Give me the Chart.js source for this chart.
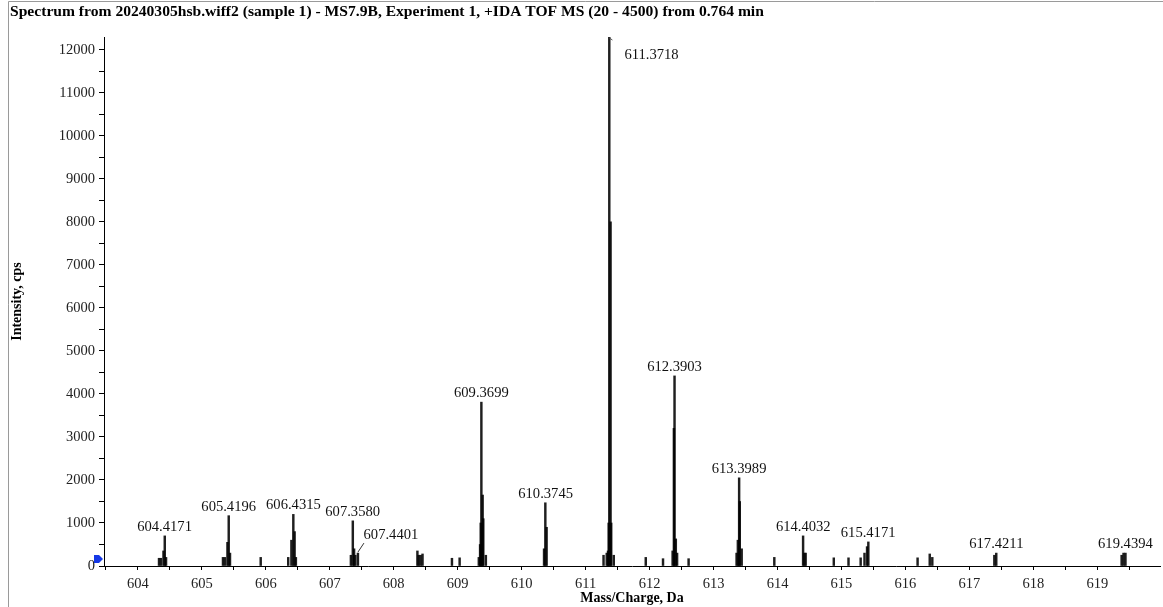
<!DOCTYPE html>
<html>
<head>
<meta charset="utf-8">
<script src="https://cdn.jsdelivr.net/npm/chart.js@4.4.1/dist/chart.umd.min.js"></script>
<style>
  html, body { margin: 0; padding: 0; background: #fff; }
  #wrap { width: 1163px; height: 607px; }
</style>
</head>
<body>
<div id="wrap"><canvas id="spectrum" width="1163" height="607"></canvas></div>
<script>
const chartTitle = 'Spectrum from 20240305hsb.wiff2 (sample 1) - MS7.9B, Experiment 1, +IDA TOF MS (20 - 4500) from 0.764 min';

// m/z of every stick and its intensity (cps)
const mzValues = [
  604.33, 604.36, 604.40, 604.42, 604.44,
  605.33, 605.36, 605.40, 605.42, 605.44, 605.92,
  606.35, 606.40, 606.43, 606.45, 606.47,
  607.33, 607.36, 607.38, 607.40, 607.44,
  608.37, 608.39, 608.42, 608.45, 608.91,
  609.03, 609.33, 609.35, 609.36, 609.37, 609.39, 609.40, 609.44,
  610.35, 610.37, 610.39,
  611.28, 611.33, 611.35, 611.36, 611.37, 611.39, 611.40, 611.44, 611.94,
  612.21, 612.36, 612.38, 612.39, 612.41, 612.43, 612.61,
  613.36, 613.38, 613.40, 613.41, 613.44, 613.95,
  614.40, 614.42, 614.44, 614.88,
  615.11, 615.30, 615.36, 615.40, 615.42,
  616.19, 616.38, 616.42,
  617.39, 617.42,
  619.38, 619.41, 619.44
];
const intensities = [
  180, 180, 350, 700, 200,
  200, 200, 550, 1170, 300, 200,
  200, 600, 1200, 800, 200,
  250, 1050, 400, 250, 300,
  350, 250, 250, 280, 180,
  190, 200, 500, 1000, 3810, 1650, 1100, 250,
  400, 1470, 900,
  250, 300, 350, 1000, 12300, 8000, 1000, 250, 200,
  170, 350, 3200, 4420, 630, 300, 170,
  300, 600, 2050, 1500, 400, 200,
  700, 300, 300, 190,
  190, 190, 300, 450, 560,
  190, 280, 200,
  250, 300,
  250, 300, 300
];

// annotated peaks: label text and the height of the peak under it
const peakLabels = ['604.4171', '605.4196', '606.4315', '607.3580', '607.4401', '609.3699', '610.3745',
  '611.3718', '612.3903', '613.3989', '614.4032', '615.4171', '617.4211', '619.4394'];
const peakTops = [700, 1170, 1200, 1050, 300, 3810, 1470, 12300, 4420, 2050, 700, 560, 300, 300];

// tick positions (major ones get a label)
const xTicks = [603.5, 604, 604.5, 605, 605.5, 606, 606.5, 607, 607.5, 608, 608.5, 609, 609.5,
  610, 610.5, 611, 611.5, 612, 612.5, 613, 613.5, 614, 614.5, 615, 615.5, 616, 616.5,
  617, 617.5, 618, 618.5, 619, 619.5];
const yTicks = [0, 500, 1000, 1500, 2000, 2500, 3000, 3500, 4000, 4500, 5000, 5500, 6000,
  6500, 7000, 7500, 8000, 8500, 9000, 9500, 10000, 10500, 11000, 11500, 12000];

const serif = '"Liberation Serif", "Times New Roman", serif';

const annotatePlugin = {
  id: 'annotate',
  afterDraw(chart) {
    const { ctx, chartArea, scales: { x, y } } = chart;
    ctx.save();

    // window frame
    ctx.strokeStyle = '#9a9a9a';
    ctx.lineWidth = 1;
    ctx.beginPath();
    ctx.moveTo(8.5, 607);
    ctx.lineTo(8.5, 1.5);
    ctx.lineTo(1163, 1.5);
    ctx.stroke();

    ctx.fillStyle = '#000';
    ctx.font = 'bold 15.6px ' + serif;
    ctx.textAlign = 'left';
    ctx.textBaseline = 'middle';
    ctx.fillText(chartTitle, 10, 12);

    // peak labels
    ctx.font = '14.6px ' + serif;
    ctx.fillStyle = '#111';
    ctx.textBaseline = 'alphabetic';
    peakLabels.forEach((txt, i) => {
      const px = x.getPixelForValue(parseFloat(txt));
      const py = y.getPixelForValue(peakTops[i]);
      if (txt === '611.3718') {
        ctx.textAlign = 'left';
        ctx.fillText(txt, px + 15, py + 22);
        ctx.beginPath();
        ctx.moveTo(px, py + 1);
        ctx.lineTo(px + 3, py + 3);
        ctx.strokeStyle = '#555';
        ctx.stroke();
      } else if (txt === '607.4401') {
        ctx.textAlign = 'center';
        ctx.fillText(txt, px + 33, py - 14);
        ctx.beginPath();
        ctx.moveTo(px, py - 1);
        ctx.lineTo(px + 6, py - 10);
        ctx.strokeStyle = '#333';
        ctx.stroke();
      } else {
        ctx.textAlign = 'center';
        ctx.fillText(txt, px, py - 5);
      }
    });

    // blue marker at the origin
    const ax = chartArea.left;
    const ay = y.getPixelForValue(0);
    ctx.fillStyle = '#1538e6';
    ctx.beginPath();
    ctx.moveTo(ax - 10, ay - 11);
    ctx.lineTo(ax - 5, ay - 11);
    ctx.lineTo(ax - 1, ay - 7);
    ctx.lineTo(ax - 5, ay - 3);
    ctx.lineTo(ax - 10, ay - 3);
    ctx.closePath();
    ctx.fill();

    ctx.restore();
  }
};

new Chart(document.getElementById('spectrum'), {
  type: 'bar',
  data: {
    datasets: [{
      data: mzValues.map((m, i) => ({ x: m, y: intensities[i] })),
      backgroundColor: 'rgba(0,0,0,0.88)',
      barThickness: 1.8,
      grouped: false
    }]
  },
  options: {
    responsive: false,
    animation: false,
    devicePixelRatio: 1,
    layout: { padding: { left: 0, right: 3, top: 37, bottom: 0 } },
    plugins: {
      legend: { display: false },
      tooltip: { enabled: false }
    },
    scales: {
      x: {
        type: 'linear',
        min: 603.47,
        max: 619.98,
        offset: false,
        afterFit(scale) { scale.height = 41; },
        afterBuildTicks(scale) { scale.ticks = xTicks.map(v => ({ value: v })); },
        border: { display: true, color: '#000', width: 1 },
        grid: { offset: false, drawOnChartArea: false, drawTicks: true, tickLength: 4, tickColor: '#000' },
        ticks: {
          autoSkip: false,
          maxRotation: 0,
          padding: 5,
          color: '#222',
          font: { family: serif, size: 14.5 },
          callback: (v, i, ticks) => {
            const val = ticks[i].value;
            return Number.isInteger(val) ? String(val) : '';
          }
        },
        title: {
          display: true,
          text: 'Mass/Charge, Da',
          color: '#000',
          font: { family: serif, size: 14, weight: 'bold' },
          padding: { top: 0, bottom: 0 }
        }
      },
      y: {
        min: 0,
        max: 12300,
        afterFit(scale) { scale.width = 104; },
        afterBuildTicks(scale) { scale.ticks = yTicks.map(v => ({ value: v })); },
        border: { display: true, color: '#000', width: 1 },
        grid: { drawOnChartArea: false, drawTicks: true, tickLength: 5, tickColor: '#000' },
        ticks: {
          autoSkip: false,
          padding: 4,
          color: '#222',
          font: { family: serif, size: 14.5 },
          callback: (v, i, ticks) => {
            const val = ticks[i].value;
            return val % 1000 === 0 ? String(val) : '';
          }
        },
        title: {
          display: true,
          text: 'Intensity, cps',
          color: '#000',
          font: { family: serif, size: 14, weight: 'bold' },
          padding: { top: 9, bottom: 0 }
        }
      }
    }
  },
  plugins: [annotatePlugin]
});
</script>
</body>
</html>
